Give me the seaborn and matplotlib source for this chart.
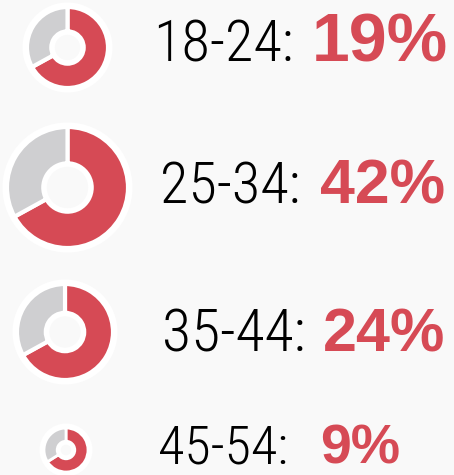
import matplotlib
matplotlib.use("Agg")
import matplotlib.pyplot as plt
from matplotlib.patches import Circle
import seaborn as sns

# ---- data ----
age_groups = ["18-24", "25-34", "35-44", "45-54"]
shares = [19, 42, 24, 9]                      # percent shown next to each donut
ring_red_fraction = [0.67, 0.67, 0.67, 0.66]  # red part of each donut ring

# ---- layout (pixels, origin top-left) ----
W, H = 454, 475
donut_cx = [67.5, 67.5, 65, 66]
donut_cy = [47.5, 187.5, 332, 450]
donut_r = [40.5, 60.5, 48, 22]
label_x = [153, 160, 162, 158]
pct_x = [312, 320, 323, 320]
baseline_y = [62, 203, 352, 463]
label_size = [42, 42, 43, 39]
pct_size = [49, 45, 44, 40]

RED = "#d64a55"
GRAY = "#cfcfd1"
BG = "#f9f9f9"

sns.set_theme(style="white", rc={"figure.facecolor": BG, "axes.facecolor": BG})

fig = plt.figure(figsize=(W / 100, H / 100), dpi=100)
ax = fig.add_axes([0, 0, 1, 1])
ax.set_facecolor(BG)

for i, grp in enumerate(age_groups):
    cx, cy, r = donut_cx[i], H - donut_cy[i], donut_r[i]
    ax.add_patch(Circle((cx, cy), r + 4.5, facecolor="white", edgecolor="none", zorder=1))
    frac = ring_red_fraction[i]
    ax.pie([frac, 1 - frac], colors=[RED, GRAY], startangle=90, counterclock=False,
           center=(cx, cy), radius=r,
           wedgeprops=dict(width=r * 0.6, edgecolor="white", linewidth=3.0 if r > 30 else 2.0))
    for w in ax.patches[-2:]:
        w.set_zorder(2)
    ax.add_patch(Circle((cx, cy), r * 0.4 - 3.5, facecolor=BG, edgecolor="none", zorder=3))

ax.set_xlim(0, W)
ax.set_ylim(0, H)
ax.set_aspect("auto")
ax.axis("off")

for i, grp in enumerate(age_groups):
    y = H - baseline_y[i]
    ax.text(label_x[i], y, f"{grp}:", ha="left", va="baseline", fontsize=label_size[i],
            family=["Roboto Condensed", "DejaVu Sans"], fontweight=300,
            color="black", zorder=5)
    ax.text(pct_x[i], y, f"{shares[i]}%", ha="left", va="baseline", fontsize=pct_size[i],
            family=["Liberation Sans", "DejaVu Sans"], fontweight="bold", color=RED, zorder=5)

fig.savefig("out.png", dpi=100, facecolor=BG)
